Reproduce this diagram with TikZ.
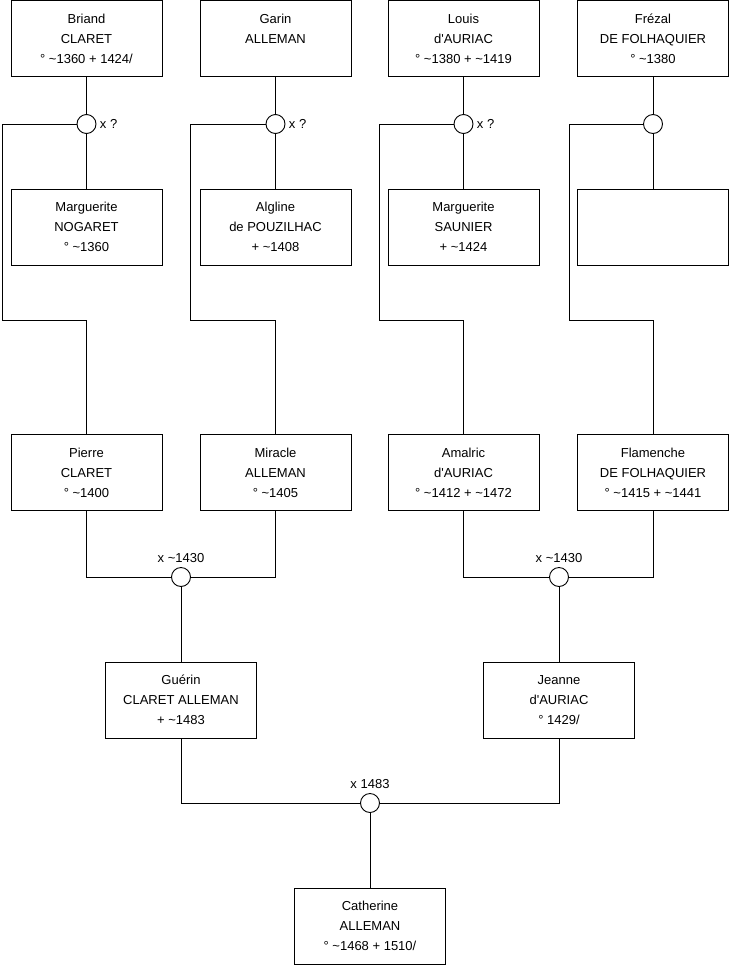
\documentclass[tikz,border=0pt]{standalone}
\usepackage{fontspec}
\setmainfont{Liberation Sans}
\usetikzlibrary{positioning}

\tikzset{
  person/.style={draw, rectangle, minimum width=151pt, minimum height=76pt,
    inner sep=0pt, align=center, font=\fontsize{13}{20}\selectfont},
  union/.style={draw, circle, minimum size=19pt, inner sep=0pt, fill=white},
  note/.style={inner sep=1pt, font=\fontsize{13}{15}\selectfont}
}
\newcommand{\ca}{\textasciitilde}
\newcommand{\ap}{\textquotesingle}

\begin{document}
\begin{tikzpicture}[x=1pt, y=-1pt, line width=0.9pt]
            \useasboundingbox (0, 0) rectangle (740, 975);
            % grandparents
            \node[person] (briand) at (86.5, 38.5) {Briand\\CLARET\\° \ca1360 + 1424/};
            \node[person] (garin) at (275.5, 38.5) {Garin\\ALLEMAN\\\mbox{}};
            \node[person] (louis) at (463.5, 38.5) {Louis\\d\ap AURIAC\\° \ca1380 + \ca1419};
            \node[person] (frezal) at (653, 38.5) {Frézal\\DE FOLHAQUIER\\° \ca1380};
            \node[person] (margnog) at (86.5, 227) {Marguerite\\NOGARET\\° \ca1360};
            \node[person] (algline) at (275.5, 227) {Algline\\de POUZILHAC\\+ \ca1408};
            \node[person] (margsau) at (463.5, 227) {Marguerite\\SAUNIER\\+ \ca1424};
            \node[person] (unknown) at (653, 227) {};
            \node[union] (u1) at (86.5, 124) {};
            \node[union] (u2) at (275.5, 124) {};
            \node[union] (u3) at (463.5, 124) {};
            \node[union] (u4) at (653, 124) {};
            \node[note, right=2pt of u1] (m1) {x ?};
            \node[note, right=2pt of u2] (m2) {x ?};
            \node[note, right=2pt of u3] (m3) {x ?};
            % parents
            \node[person] (pierre) at (86.5, 472.5) {Pierre\\CLARET\\° \ca1400};
            \node[person] (miracle) at (275.5, 472.5) {Miracle\\ALLEMAN\\° \ca1405};
            \node[person] (amalric) at (463.5, 472.5) {Amalric\\d\ap AURIAC\\° \ca1412 + \ca1472};
            \node[person] (flamenche) at (653, 472.5) {Flamenche\\DE FOLHAQUIER\\° \ca1415 + \ca1441};
            \node[union] (u5) at (181, 577) {};
            \node[union] (u6) at (559, 577) {};
            \node[note, above=3pt of u5] (m5) {x \ca1430};
            \node[note, above=3pt of u6] (m6) {x \ca1430};
            \node[person] (guerin) at (181, 700) {Guérin\\CLARET ALLEMAN\\+ \ca1483};
            \node[person] (jeanne) at (559, 700) {Jeanne\\d\ap AURIAC\\° 1429/};
            \node[union] (u7) at (370, 803) {};
            \node[note, above=3pt of u7] (m7) {x 1483};
            \node[person] (catherine) at (370, 926) {Catherine\\ALLEMAN\\° \ca1468 + 1510/};
            \coordinate (k1) at (2, 320);
            \coordinate (k2) at (190, 320);
            \coordinate (k3) at (379, 320);
            \coordinate (k4) at (569, 320);
            % couples
            \draw (briand) -- (u1);
            \draw (u1) -- (margnog);
            \draw (garin) -- (u2);
            \draw (u2) -- (algline);
            \draw (louis) -- (u3);
            \draw (u3) -- (margsau);
            \draw (frezal) -- (u4);
            \draw (u4) -- (unknown);
            % children
            \draw (u1.west) -| (k1) -| (pierre.north);
            \draw (u2.west) -| (k2) -| (miracle.north);
            \draw (u3.west) -| (k3) -| (amalric.north);
            \draw (u4.west) -| (k4) -| (flamenche.north);
            \draw (pierre.south) |- (u5.west);
            \draw (miracle.south) |- (u5.east);
            \draw (amalric.south) |- (u6.west);
            \draw (flamenche.south) |- (u6.east);
            \draw (u5) -- (guerin);
            \draw (u6) -- (jeanne);
            \draw (guerin.south) |- (u7.west);
            \draw (jeanne.south) |- (u7.east);
            \draw (u7) -- (catherine);
        \end{tikzpicture}
\end{document}
